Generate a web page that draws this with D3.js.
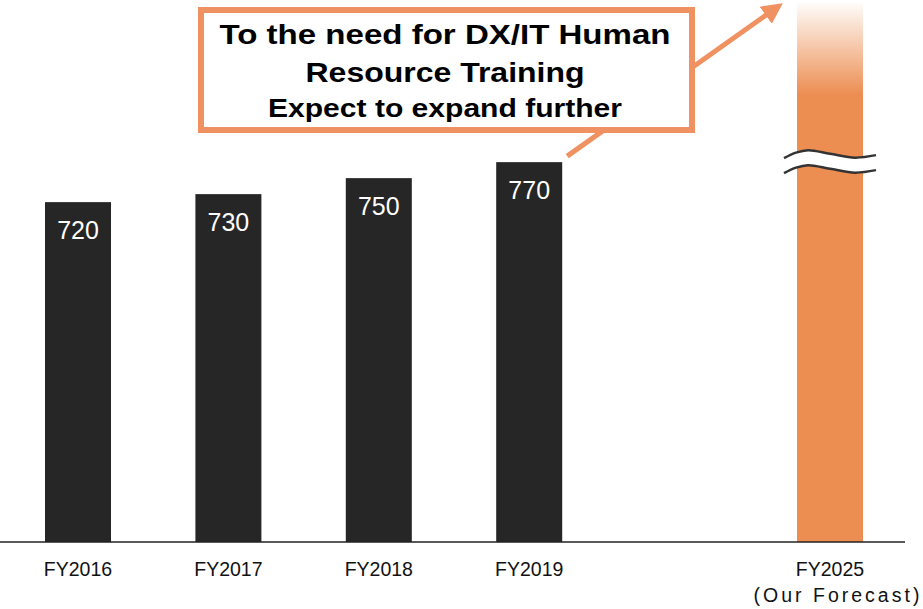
<!DOCTYPE html>
<html>
<head>
<meta charset="utf-8">
<script src="https://cdn.jsdelivr.net/npm/d3@7"></script>
<style>
  body { margin: 0; background: #fff; }
  svg { display: block; font-family: "Liberation Sans", Arial, sans-serif; }
</style>
</head>
<body>
<svg id="chart" width="923" height="609"></svg>
<script>
// data
const years = ["FY2016", "FY2017", "FY2018", "FY2019"];
const values = [720, 730, 750, 770];
const forecastYear = "FY2025";
const forecastNote = "(Our Forecast)";
const slots = ["FY2016", "FY2017", "FY2018", "FY2019", "", "FY2025"];
const calloutLines = ["To the need for DX/IT Human", "Resource Training", "Expect to expand further"];

const svg = d3.select("#chart");
const baseY = 542;
const barW = 66;

// x: one slot per year, with an empty slot before the forecast
let xAxis = d3.scalePoint().domain(slots).range([78, 830]);

// y: truncated axis (bars start well above zero)
let yAxis = d3.scaleLinear().domain([295, 969]).range([baseY, 3]);

// gradient for the forecast bar
const defs = svg.append("defs");
const grad = defs.append("linearGradient")
  .attr("id", "fade").attr("x1", 0).attr("x2", 0).attr("y1", 0).attr("y2", 1);
grad.append("stop").attr("offset", "0%").attr("stop-color", "#EC8E52").attr("stop-opacity", 0.03);
grad.append("stop").attr("offset", "17%").attr("stop-color", "#EC8E52").attr("stop-opacity", 1);
grad.append("stop").attr("offset", "100%").attr("stop-color", "#EC8E52").attr("stop-opacity", 1);

defs.append("marker")
  .attr("id", "head").attr("viewBox", "0 0 10 10")
  .attr("refX", 6).attr("refY", 5)
  .attr("markerWidth", 4.2).attr("markerHeight", 4.2)
  .attr("orient", "auto")
  .append("path").attr("d", "M0,0 L10,5 L0,10 Z").attr("fill", "#EF9160");

// bars
svg.append("g").selectAll("rect")
  .data(years)
  .join("rect")
  .attr("x", d => xAxis(d) - barW / 2)
  .attr("width", barW)
  .attr("y", (d, i) => yAxis(values[i]))
  .attr("height", (d, i) => baseY - yAxis(values[i]))
  .attr("fill", "#262626");

// value labels inside bars
svg.append("g").selectAll("text")
  .data(years)
  .join("text")
  .attr("x", d => xAxis(d))
  .attr("y", (d, i) => yAxis(values[i]) + 37)
  .attr("text-anchor", "middle")
  .attr("fill", "#fff")
  .attr("font-size", 25)
  .text((d, i) => values[i]);

// forecast bar, broken
svg.append("rect")
  .attr("x", xAxis(forecastYear) - barW / 2)
  .attr("width", barW)
  .attr("y", yAxis(969))
  .attr("height", baseY - yAxis(969))
  .attr("fill", "url(#fade)");

// break mark: white band between two wavy lines
const cx = xAxis(forecastYear);
const breakY = yAxis(785);
const waveOffsets = [[-46, 8], [-34, 2.5], [-22, 0], [0, 3.5], [25, 7.5], [46, 5]];
const gap = 15;
const upperWave = waveOffsets.map(p => [cx + p[0], breakY + p[1]]);
const lowerWave = waveOffsets.map(p => [cx + p[0], breakY + p[1] + gap]);
const wave = d3.line().curve(d3.curveCatmullRom);
const band = d3.area().curve(d3.curveCatmullRom)
  .x(p => p[0]).y0(p => p[1]).y1(p => p[1] + gap);
svg.append("path").attr("d", band(upperWave)).attr("fill", "#fff");
[upperWave, lowerWave].forEach(pts => {
  svg.append("path")
    .attr("d", wave(pts))
    .attr("fill", "none")
    .attr("stroke", "#333")
    .attr("stroke-width", 2.5);
});

// baseline
svg.append("line")
  .attr("x1", 0).attr("x2", 905)
  .attr("y1", baseY).attr("y2", baseY)
  .attr("stroke", "#222").attr("stroke-width", 1.5);

// x labels
svg.append("g").selectAll("text")
  .data(years.concat([forecastYear]))
  .join("text")
  .attr("x", d => xAxis(d))
  .attr("y", 576)
  .attr("text-anchor", "middle")
  .attr("font-size", 19.5)
  .attr("fill", "#111")
  .text(d => d);

svg.append("text")
  .attr("x", xAxis(forecastYear) + 8)
  .attr("y", 602)
  .attr("text-anchor", "middle")
  .attr("font-size", 19.5)
  .attr("letter-spacing", 3)
  .attr("fill", "#111")
  .text(forecastNote);

// arrow from last actual bar toward the forecast
svg.append("line")
  .attr("x1", xAxis("FY2019") + 38).attr("y1", yAxis(770) - 6)
  .attr("x2", 776).attr("y2", 8)
  .attr("stroke", "#EF9160").attr("stroke-width", 5)
  .attr("marker-end", "url(#head)");

// callout box
svg.append("rect")
  .attr("x", 201).attr("y", 10)
  .attr("width", 491).attr("height", 120)
  .attr("fill", "#fff")
  .attr("stroke", "#EF9160").attr("stroke-width", 6);

const lineWidths = [451, 279, 354];
svg.append("g").selectAll("text")
  .data(calloutLines)
  .join("text")
  .attr("x", 445)
  .attr("y", (d, i) => [44, 82, 117][i])
  .attr("text-anchor", "middle")
  .attr("font-weight", "bold")
  .attr("font-size", (d, i) => i < 2 ? 28.5 : 26.5)
  .attr("textLength", (d, i) => lineWidths[i])
  .attr("lengthAdjust", "spacingAndGlyphs")
  .attr("fill", "#000")
  .text(d => d);
</script>
</body>
</html>
